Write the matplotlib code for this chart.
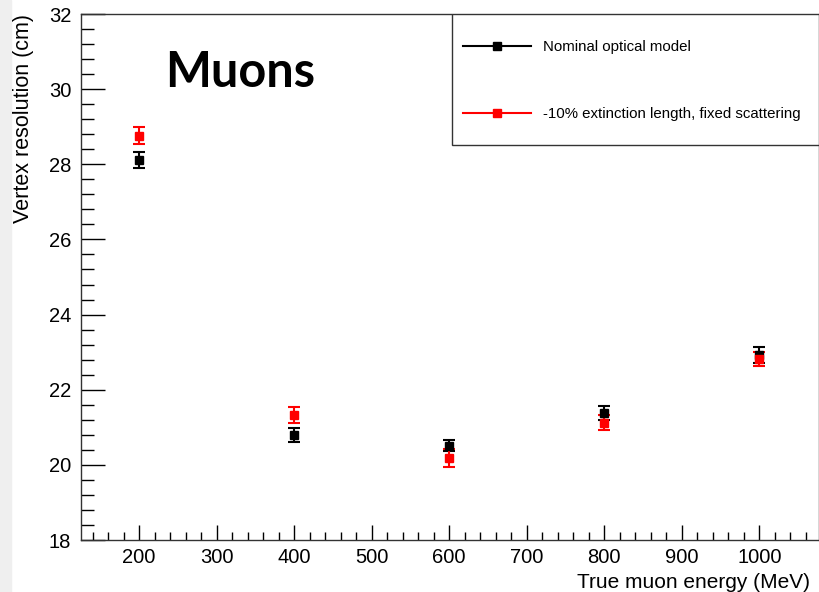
import matplotlib.pyplot as plt
from matplotlib.patches import Rectangle
from matplotlib.lines import Line2D
from matplotlib.ticker import MultipleLocator

plt.rcParams['font.family'] = ['Liberation Sans', 'DejaVu Sans']

energy = [200, 400, 600, 800, 1000]
nominal = [28.12, 20.80, 20.51, 21.38, 22.92]
nominal_err = [0.22, 0.18, 0.15, 0.18, 0.22]
ext = [28.76, 21.33, 20.18, 21.12, 22.82]
ext_err = [0.22, 0.22, 0.24, 0.20, 0.18]
labels = ['Nominal optical model', '-10% extinction length, fixed scattering']

fig = plt.figure(figsize=(8.2, 5.92), dpi=100)
# grey strip on the left edge of the screenshot
fig.patches.append(Rectangle((0, 0), 11 / 820, 1, transform=fig.transFigure,
                             color='#efefef', zorder=-1))
ax = fig.add_axes([81 / 820, 52 / 592, 738 / 820, 526 / 592])

ax.errorbar(energy, nominal, yerr=nominal_err, fmt='s', color='black', ms=6,
            elinewidth=1.5, capsize=4, capthick=1.5)
ax.errorbar(energy, ext, yerr=ext_err, fmt='s', color='red', ms=6,
            elinewidth=1.5, capsize=4, capthick=1.5)

ax.set_xlim(125, 1077)
ax.set_ylim(18, 32)
ax.xaxis.set_major_locator(MultipleLocator(100))
ax.xaxis.set_minor_locator(MultipleLocator(20))
ax.yaxis.set_major_locator(MultipleLocator(2))
ax.yaxis.set_minor_locator(MultipleLocator(0.4))
ax.tick_params(axis='both', which='both', direction='in', labelsize=14.5, width=1)
ax.tick_params(axis='x', which='major', length=11, pad=6)
ax.tick_params(axis='x', which='minor', length=6)
ax.tick_params(axis='y', which='major', length=17, pad=7)
ax.tick_params(axis='y', which='minor', length=9)
for s in ax.spines.values():
    s.set_linewidth(1)
    s.set_color('#333333')

ax.set_ylabel('Vertex resolution (cm)', fontsize=15.5, loc='top', labelpad=11)
ax.set_xlabel('True muon energy (MeV)', fontsize=15)
ax.xaxis.set_label_coords(1.0 - 9 / 738, -0.062)
ax.xaxis.label.set_ha('right')

ax.text(0.114, 0.888, 'Muons', transform=ax.transAxes, fontsize=35,
        fontweight='bold', family=['Lato', 'DejaVu Sans'], va='center')

# legend box in the top right corner
ax.add_patch(Rectangle((0.5027, 0.751), 0.4973, 0.249, transform=ax.transAxes,
                       fill=True, facecolor='white', edgecolor='#333333',
                       lw=1, zorder=5))
handles = [Line2D([], [], color='black', lw=1.5, marker='s', ms=5.5),
           Line2D([], [], color='red', lw=1.5, marker='s', ms=5.5)]
leg = ax.legend(handles, labels, loc='upper left',
                bbox_to_anchor=((463 - 81) / 738, 1 - (40 - 14) / 526),
                fontsize=10.8, frameon=False, borderpad=0, borderaxespad=0,
                handlelength=4.5, handletextpad=0.85, labelspacing=3.55)
leg.set_zorder(6)

fig.savefig('out.png', dpi=100)
